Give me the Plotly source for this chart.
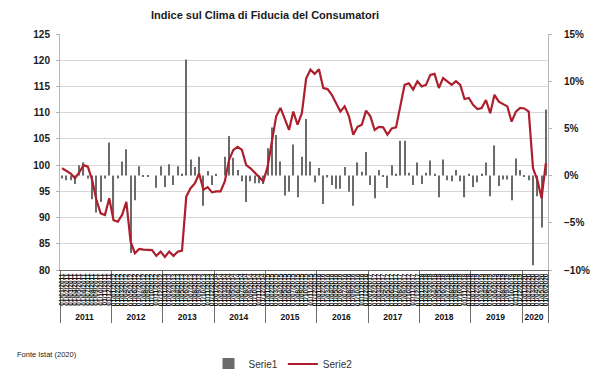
import plotly.graph_objects as go

# Anni e mesi della serie mensile (gennaio 2011 - giugno 2020)
anni_serie = ["2011", "2012", "2013", "2014", "2015", "2016", "2017", "2018", "2019", "2020"]
codici_mesi = ["01", "02", "03", "04", "05", "06", "07", "08", "09", "10", "11", "12"]
mesi_2020 = 6

# Serie2: indice del clima di fiducia dei consumatori (asse sinistro)
fiducia = [
    99.4, 98.9, 98.4, 97.5, 98.6, 100.0, 99.7, 97.2, 93.4, 90.8, 90.5, 93.7,
    89.5, 89.2, 90.5, 93.0, 85.4, 83.2, 84.0, 83.9, 83.8, 83.8, 82.7, 83.5,
    82.5, 83.5, 82.7, 83.5, 83.7, 94.0, 95.6, 96.5, 98.4, 95.3, 95.8, 94.8,
    95.0, 95.0, 96.9, 101.0, 102.9, 103.5, 102.9, 100.0, 99.4, 98.6, 97.8, 96.9,
    99.7, 104.8, 109.3, 110.9, 108.6, 106.7, 110.2, 107.7, 109.9, 116.5, 118.2, 117.4,
    118.3, 114.7, 114.5, 113.4, 111.8, 110.2, 111.2, 109.3, 105.8, 107.3, 107.7, 110.4,
    109.3, 106.7, 107.3, 107.2, 105.8, 107.0, 107.2, 111.2, 115.3, 115.6, 114.4, 116.0,
    115.0, 115.3, 117.2, 117.4, 114.7, 116.6, 116.0, 115.3, 116.0, 115.3, 112.6, 112.8,
    111.5, 110.7, 110.9, 112.4, 109.9, 113.4, 112.1, 111.7, 111.2, 108.3, 110.2, 110.9,
    110.8, 110.2, 99.4, 97.2, 93.7, 100.4,
]

# Serie1: variazione congiunturale in % (asse destro)
variazione = [
    -0.3, -0.5, -0.5, -0.9, 1.1, 1.4, -0.3, -2.5, -3.9, -2.8, -0.3, 3.5,
    -4.5, -0.3, 1.5, 2.8, -8.2, -2.6, 1.0, -0.1, -0.1, 0.0, -1.3, 1.0,
    -1.2, 1.2, -1.0, 1.0, 0.2, 12.3, 1.7, 0.9, 2.0, -3.2, 0.5, -1.0,
    0.2, 0.0, 2.0, 4.2, 1.9, 0.6, -0.6, -2.8, -0.6, -0.8, -0.8, -0.9,
    2.9, 5.1, 4.3, 1.5, -2.1, -1.7, 3.3, -2.3, 2.0, 6.0, 1.5, -0.7,
    0.8, -3.0, -0.2, -1.0, -1.4, -1.4, 0.9, -1.7, -3.2, 1.4, 0.4, 2.5,
    -1.0, -2.4, 0.6, -0.1, -1.3, 1.1, 0.2, 3.7, 3.7, 0.3, -1.0, 1.4,
    -0.9, 0.3, 1.6, 0.2, -2.3, 1.7, -0.5, -0.6, 0.6, -0.6, -2.3, 0.2,
    -1.2, -0.7, 0.2, 1.4, -2.2, 3.2, -1.1, -0.4, -0.4, -2.6, 1.8, 0.6,
    -0.1, -0.5, -9.5, -2.2, -5.5, 7.0,
]

# Etichette a due livelli: anno (esterno) e data del mese (interno)
livello_anno = []
livello_mese = []
for anno in anni_serie:
    n = mesi_2020 if anno == "2020" else 12
    for mese in codici_mesi[:n]:
        livello_anno.append('<span style="font-size:8.5px;font-weight:normal"><b>' + anno + "</b></span>")
        livello_mese.append("01/" + mese + "/" + anno)

x_cat = [livello_anno, livello_mese]

fig = go.Figure()
fig.add_trace(go.Bar(
    x=x_cat, y=variazione, name="Serie1", yaxis="y",
    marker=dict(color="#6b6b6b", line=dict(width=0)), width=0.26,
))
fig.add_trace(go.Scatter(
    x=x_cat, y=fiducia, name="Serie2", yaxis="y2", mode="lines",
    line=dict(color="#ad1f2d", width=2.2),
))

font_assi = dict(family="Liberation Sans, Arial, sans-serif", size=10, color="#1a1a1a", weight="bold")

fig.update_layout(
    width=592, height=369,
    margin=dict(l=60, r=44, t=34, b=99, autoexpand=False),
    paper_bgcolor="white", plot_bgcolor="white",
    title=dict(
        text="Indice sul Clima di Fiducia del Consumatori",
        x=265 / 592, xref="container", xanchor="center",
        y=1 - 15 / 369, yref="container", yanchor="middle",
        font=dict(family="Liberation Sans, Arial, sans-serif", size=11,
                  color="#1a1a1a", weight="bold"),
    ),
    xaxis=dict(
        type="multicategory", tickmode="linear", dtick=1,
        tickangle=-90, tickfont=dict(family="Liberation Sans, Arial, sans-serif",
                                     size=6.5, color="#111111", weight="bold"),
        showline=True, linecolor="#6e6e6e", linewidth=1,
        showdividers=True, dividercolor="#6e6e6e", dividerwidth=1,
        showgrid=False, ticks="",
    ),
    yaxis=dict(
        side="right", range=[-10, 15], tick0=-10, dtick=5, ticksuffix="%",
        showgrid=False, zeroline=False, showline=True, linecolor="#b5b5b5",
        ticks="outside", ticklen=3, tickcolor="#b5b5b5",
        tickfont=font_assi, ticklabelstandoff=10,
    ),
    yaxis2=dict(
        overlaying="y", side="left", anchor="x", range=[80, 125], tick0=80, dtick=5,
        showgrid=True, gridcolor="#d6d6d6", gridwidth=1, zeroline=False,
        showline=True, linecolor="#b5b5b5",
        ticks="outside", ticklen=3, tickcolor="#b5b5b5",
        tickfont=font_assi, ticklabelstandoff=4,
    ),
    legend=dict(
        orientation="h", x=283 / 592, xref="container", xanchor="center",
        y=(369 - 364) / 369, yref="container", yanchor="middle",
        font=dict(family="Liberation Sans, Arial, sans-serif", size=10, color="#333333"),
        itemwidth=30, tracegroupgap=0,
    ),
    showlegend=True,
    annotations=[dict(
        text="Fonte Istat (2020)", xref="paper", yref="paper",
        x=(15 - 60) / 488, y=(270 - 354) / 236, xanchor="left", yanchor="middle",
        showarrow=False,
        font=dict(family="Liberation Sans, Arial, sans-serif", size=7.5, color="#1a1a1a"),
    )],
)

fig.write_html("out.html")
